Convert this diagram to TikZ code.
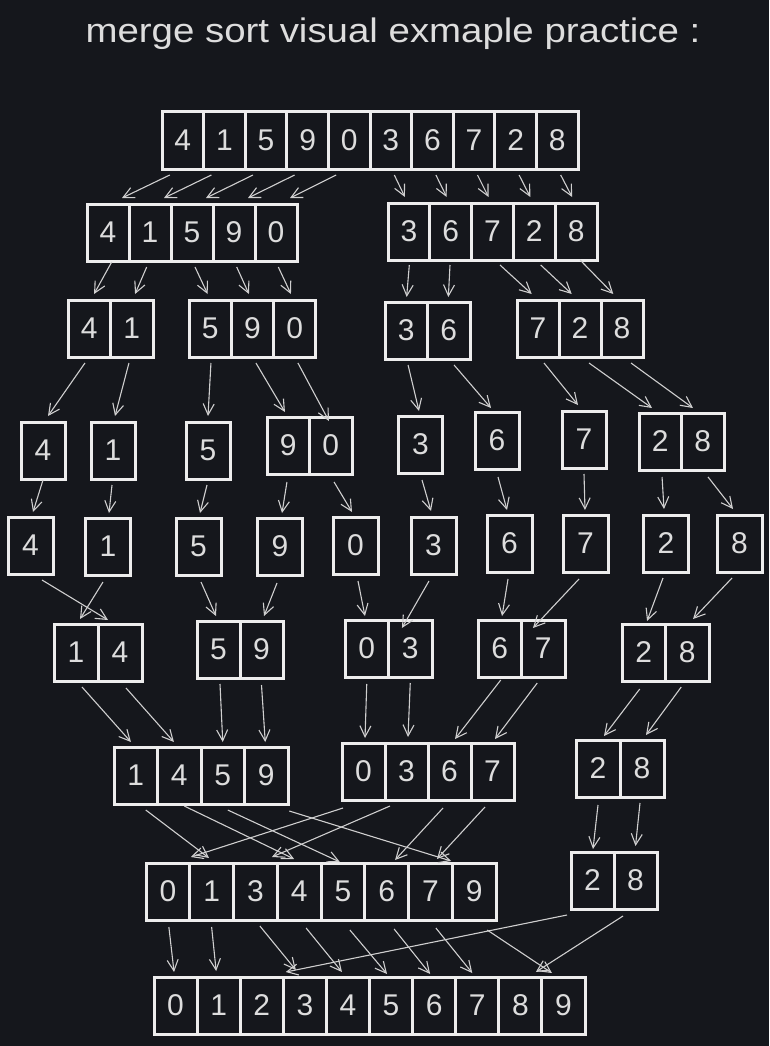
\documentclass[tikz,border=0pt]{standalone}
\usepackage{fontspec}
\setmainfont{Liberation Sans}
\usepackage{xcolor}
\usetikzlibrary{arrows.meta}
\definecolor{canvas}{HTML}{15171C}
\definecolor{boxline}{HTML}{EDEDED}
\definecolor{digit}{HTML}{DDDDDD}
\definecolor{arrowline}{HTML}{CFCFCF}

\begin{document}
\begin{tikzpicture}[
        x=1pt, y=-1pt,
        cell/.style={rectangle, draw=boxline, line width=3pt, text=digit, minimum height=57pt, inner sep=0pt, outer sep=0pt, font=\fontsize{30}{30}\selectfont},
        heading/.style={text=digit, font=\fontsize{34}{34}\selectfont, xscale=1.13, transform shape},
        arrow/.style={draw=arrowline, line width=1.1pt, -{Straight Barb[length=11pt,width=11pt]}}
    ]
        % Canvas
        \fill[canvas] (0,0) rectangle (769,1046);
        \useasboundingbox (0,0) rectangle (769,1046);

        % Title
        \node[heading, anchor=base] (title) at (393,43) {merge sort visual exmaple practice :};

        % Nodes
        \foreach \val [count=\k] in {4,1,5,9,0,3,6,7,2,8}
            \node[cell, minimum width=41.6pt] (a\k) at ({162+41.6*(\k-0.5)},140.5) {\val};

        \foreach \val [count=\k] in {4,1,5,9,0}
            \node[cell, minimum width=42pt] (b\k) at ({87+42*(\k-0.5)},232.5) {\val};
        \foreach \val [count=\k from 6] in {3,6,7,2,8}
            \node[cell, minimum width=41.8pt] (b\k) at ({388+41.8*(\k-5.5)},231.5) {\val};

        \foreach \val [count=\k] in {4,1}
            \node[cell, minimum width=42.5pt] (c\k) at ({68+42.5*(\k-0.5)},328.5) {\val};
        \foreach \val [count=\k from 3] in {5,9,0}
            \node[cell, minimum width=42.3pt] (c\k) at ({189+42.3*(\k-2.5)},328.5) {\val};
        \foreach \val [count=\k from 6] in {3,6}
            \node[cell, minimum width=42.5pt] (c\k) at ({385+42.5*(\k-5.5)},330.5) {\val};
        \foreach \val [count=\k from 8] in {7,2,8}
            \node[cell, minimum width=42pt] (c\k) at ({517+42*(\k-7.5)},328.5) {\val};

        \node[cell, minimum width=44pt] (d1) at (43,450.5) {4};
        \node[cell, minimum width=44pt] (d2) at (113,450.5) {1};
        \node[cell, minimum width=44pt] (d3) at (208,450.5) {5};
        \foreach \val [count=\k from 4] in {9,0}
            \node[cell, minimum width=42.5pt] (d\k) at ({267+42.5*(\k-3.5)},445.5) {\val};
        \node[cell, minimum width=44pt] (d6) at (420.5,444.5) {3};
        \node[cell, minimum width=44pt] (d7) at (497,440.5) {6};
        \node[cell, minimum width=44pt] (d8) at (584,439.5) {7};
        \foreach \val [count=\k from 9] in {2,8}
            \node[cell, minimum width=42.5pt] (d\k) at ({639+42.5*(\k-8.5)},441.5) {\val};

        \foreach \px/\py/\val [count=\k] in {30.5/545.5/4, 108/546.5/1, 198.5/546.5/5, 280/546.5/9, 355.5/545.5/0,
                433.5/545.5/3, 509.5/543.5/6, 585.5/543.5/7, 666/543.5/2, 739.5/543.5/8}
            \node[cell, minimum width=45pt] (e\k) at (\px,\py) {\val};

        \foreach \val [count=\k] in {1,4}
            \node[cell, minimum width=44pt] (f\k) at ({54+44*(\k-0.5)},652.5) {\val};
        \foreach \val [count=\k from 3] in {5,9}
            \node[cell, minimum width=43pt] (f\k) at ({197+43*(\k-2.5)},649.5) {\val};
        \foreach \val [count=\k from 5] in {0,3}
            \node[cell, minimum width=43.5pt] (f\k) at ({345+43.5*(\k-4.5)},648.5) {\val};
        \foreach \val [count=\k from 7] in {6,7}
            \node[cell, minimum width=43.5pt] (f\k) at ({478+43.5*(\k-6.5)},648.5) {\val};
        \foreach \val [count=\k from 9] in {2,8}
            \node[cell, minimum width=43.5pt] (f\k) at ({622+43.5*(\k-8.5)},652.5) {\val};

        \foreach \val [count=\k] in {1,4,5,9}
            \node[cell, minimum width=43.5pt] (g\k) at ({114+43.5*(\k-0.5)},775.5) {\val};
        \foreach \val [count=\k from 5] in {0,3,6,7}
            \node[cell, minimum width=43pt] (g\k) at ({342+43*(\k-4.5)},771.5) {\val};
        \foreach \val [count=\k from 9] in {2,8}
            \node[cell, minimum width=44pt] (g\k) at ({576+44*(\k-8.5)},768.5) {\val};

        \foreach \val [count=\k] in {0,1,3,4,5,6,7,9}
            \node[cell, minimum width=43.75pt] (h\k) at ({146+43.75*(\k-0.5)},891.5) {\val};
        \foreach \val [count=\k from 9] in {2,8}
            \node[cell, minimum width=43pt] (h\k) at ({571+43*(\k-8.5)},880.5) {\val};

        \foreach \val [count=\k] in {0,1,2,3,4,5,6,7,8,9}
            \node[cell, minimum width=43.1pt] (i\k) at ({154+43.1*(\k-0.5)},1005.5) {\val};

        % Arrows: split
        \draw[arrow] ([xshift=-13pt,yshift=-6pt]a1.south) -- ([xshift=14pt,yshift=6pt]b1.north);
        \draw[arrow] ([xshift=-13pt,yshift=-6pt]a2.south) -- ([xshift=14pt,yshift=6pt]b2.north);
        \draw[arrow] ([xshift=-13pt,yshift=-6pt]a3.south) -- ([xshift=14pt,yshift=6pt]b3.north);
        \draw[arrow] ([xshift=-13pt,yshift=-6pt]a4.south) -- ([xshift=14pt,yshift=6pt]b4.north);
        \draw[arrow] ([xshift=-13pt,yshift=-6pt]a5.south) -- ([xshift=14pt,yshift=6pt]b5.north);
        \draw[arrow] ([xshift=3.5pt,yshift=-6pt]a6.south) -- ([xshift=-4pt,yshift=6pt]b6.north);
        \draw[arrow] ([xshift=3.5pt,yshift=-6pt]a7.south) -- ([xshift=-4pt,yshift=6pt]b7.north);
        \draw[arrow] ([xshift=3.5pt,yshift=-6pt]a8.south) -- ([xshift=-4pt,yshift=6pt]b8.north);
        \draw[arrow] ([xshift=3.5pt,yshift=-6pt]a9.south) -- ([xshift=-4pt,yshift=6pt]b9.north);
        \draw[arrow] ([xshift=3.5pt,yshift=-6pt]a10.south) -- ([xshift=-4pt,yshift=6pt]b10.north);

        \draw[arrow] ([xshift=3.7pt,yshift=-1pt]b1.south) -- ([xshift=4.8pt,yshift=6pt]c1.north);
        \draw[arrow] ([xshift=-3.3pt,yshift=-6pt]b2.south) -- ([xshift=3.3pt,yshift=6pt]c2.north);
        \draw[arrow] ([xshift=3pt,yshift=-6pt]b3.south) -- ([xshift=-2.5pt,yshift=6pt]c3.north);
        \draw[arrow] ([xshift=2.7pt,yshift=-6pt]b4.south) -- ([xshift=-3.5pt,yshift=6pt]c4.north);
        \draw[arrow] ([xshift=2.3pt,yshift=-6pt]b5.south) -- ([xshift=-3.8pt,yshift=6pt]c5.north);
        \draw[arrow] ([xshift=0.4pt,yshift=-5pt]b6.south) -- ([xshift=0.4pt,yshift=5pt]c6.north);
        \draw[arrow] ([xshift=-0.7pt,yshift=-5pt]b7.south) -- ([xshift=-0.4pt,yshift=5pt]c7.north);
        \draw[arrow] ([xshift=7.5pt,yshift=-5pt]b8.south) -- ([xshift=-6.3pt,yshift=6pt]c8.north);
        \draw[arrow] ([xshift=6.4pt,yshift=-5pt]b9.south) -- ([xshift=-8.3pt,yshift=6pt]c9.north);
        \draw[arrow] ([xshift=4pt,yshift=0pt]b10.south) -- ([xshift=-8.7pt,yshift=6pt]c10.north);

        \draw[arrow] ([xshift=-4.3pt,yshift=-6pt]c1.south) -- ([xshift=5pt,yshift=6pt]d1.north);
        \draw[arrow] ([xshift=-2.8pt,yshift=-6pt]c2.south) -- ([xshift=2pt,yshift=6pt]d2.north);
        \draw[arrow] ([xshift=0.8pt,yshift=-6pt]c3.south) -- ([xshift=0pt,yshift=6pt]d3.north);
        \draw[arrow] ([xshift=3.5pt,yshift=-6pt]c4.south) -- ([xshift=-3.3pt,yshift=5pt]d4.north);
        \draw[arrow] ([xshift=3.2pt,yshift=-6pt]c5.south) -- ([xshift=-1.8pt,yshift=-4pt]d5.north);
        \draw[arrow] ([xshift=1.8pt,yshift=-6pt]c6.south) -- ([xshift=-1.5pt,yshift=5pt]d6.north);
        \draw[arrow] ([xshift=5.3pt,yshift=-6pt]c7.south) -- ([xshift=-6pt,yshift=4pt]d7.north);
        \draw[arrow] ([xshift=6pt,yshift=-6pt]c8.south) -- ([xshift=-6pt,yshift=6pt]d8.north);
        \draw[arrow] ([xshift=9pt,yshift=-6pt]c9.south) -- ([xshift=-8.3pt,yshift=5pt]d9.north);
        \draw[arrow] ([xshift=9pt,yshift=-6pt]c10.south) -- ([xshift=-9.8pt,yshift=5pt]d10.north);

        \draw[arrow] ([xshift=0pt,yshift=-1pt]d1.south) -- ([xshift=2.5pt,yshift=5pt]e1.north);
        \draw[arrow] ([xshift=-1pt,yshift=-6pt]d2.south) -- ([xshift=1pt,yshift=5pt]e2.north);
        \draw[arrow] ([xshift=-1pt,yshift=-6pt]d3.south) -- ([xshift=1.5pt,yshift=5pt]e3.north);
        \draw[arrow] ([xshift=-1.3pt,yshift=-8pt]d4.south) -- ([xshift=2pt,yshift=5pt]e4.north);
        \draw[arrow] ([xshift=3.3pt,yshift=-8pt]d5.south) -- ([xshift=-3.5pt,yshift=5pt]e5.north);
        \draw[arrow] ([xshift=1.5pt,yshift=-7pt]d6.south) -- ([xshift=-2.5pt,yshift=6pt]e6.north);
        \draw[arrow] ([xshift=1pt,yshift=-8pt]d7.south) -- ([xshift=-2.5pt,yshift=5pt]e7.north);
        \draw[arrow] ([xshift=0pt,yshift=-6pt]d8.south) -- ([xshift=-0.5pt,yshift=5pt]e8.north);
        \draw[arrow] ([xshift=1.8pt,yshift=-7pt]d9.south) -- ([xshift=-2pt,yshift=6pt]e9.north);
        \draw[arrow] ([xshift=5.3pt,yshift=-7pt]d10.south) -- ([xshift=-6.5pt,yshift=6pt]e10.north);

        % Arrows: merge
        \draw[arrow] ([xshift=11.5pt,yshift=-6pt]e1.south) -- ([xshift=-12pt,yshift=4pt]f2.north);
        \draw[arrow] ([xshift=-5pt,yshift=-7pt]e2.south) -- ([xshift=4pt,yshift=5pt]f1.north);
        \draw[arrow] ([xshift=2.5pt,yshift=-7pt]e3.south) -- ([xshift=-2.5pt,yshift=5pt]f3.north);
        \draw[arrow] ([xshift=-3pt,yshift=-8pt]e4.south) -- ([xshift=2.5pt,yshift=5pt]f4.north);
        \draw[arrow] ([xshift=2.5pt,yshift=-7pt]e5.south) -- ([xshift=-1.8pt,yshift=4pt]f5.north);
        \draw[arrow] ([xshift=-4.5pt,yshift=-7pt]e6.south) -- ([xshift=-8.3pt,yshift=-8pt]f6.north);
        \draw[arrow] ([xshift=-1.5pt,yshift=-7pt]e7.south) -- ([xshift=2.3pt,yshift=4pt]f7.north);
        \draw[arrow] ([xshift=-6.5pt,yshift=-7pt]e8.south) -- ([xshift=-10.3pt,yshift=-8pt]f8.north);
        \draw[arrow] ([xshift=-3pt,yshift=-6pt]e9.south) -- ([xshift=3.3pt,yshift=3pt]f9.north);
        \draw[arrow] ([xshift=-7.5pt,yshift=-6pt]e10.south) -- ([xshift=5.8pt,yshift=5pt]f10.north);

        \draw[arrow] ([xshift=6pt,yshift=-6pt]f1.south) -- ([xshift=-4.8pt,yshift=5pt]g1.north);
        \draw[arrow] ([xshift=6pt,yshift=-7pt]f2.south) -- ([xshift=-5.3pt,yshift=5pt]g2.north);
        \draw[arrow] ([xshift=1.5pt,yshift=-6pt]f3.south) -- ([xshift=0pt,yshift=5pt]g3.north);
        \draw[arrow] ([xshift=0pt,yshift=-7pt]f4.south) -- ([xshift=-1pt,yshift=5pt]g4.north);
        \draw[arrow] ([xshift=0pt,yshift=-7pt]f5.south) -- ([xshift=1.5pt,yshift=5pt]g5.north);
        \draw[arrow] ([xshift=0pt,yshift=-6pt]f6.south) -- ([xshift=1.5pt,yshift=6pt]g6.north);
        \draw[arrow] ([xshift=1pt,yshift=-3pt]f7.south) -- ([xshift=5.5pt,yshift=4pt]g7.north);
        \draw[arrow] ([xshift=-6pt,yshift=-6pt]f8.south) -- ([xshift=2.5pt,yshift=4pt]g8.north);
        \draw[arrow] ([xshift=-4pt,yshift=-8pt]f9.south) -- ([xshift=6pt,yshift=4pt]g9.north);
        \draw[arrow] ([xshift=-6pt,yshift=-6pt]f10.south) -- ([xshift=4pt,yshift=5pt]g10.north);

        \draw[arrow] ([xshift=10pt,yshift=-6pt]g1.south) -- ([xshift=-2.6pt,yshift=5pt]h2.north);
        \draw[arrow] ([xshift=5pt,yshift=-2pt]g2.south) -- ([xshift=-5pt,yshift=4pt]h4.north);
        \draw[arrow] ([xshift=5pt,yshift=-6pt]g3.south) -- ([xshift=-3pt,yshift=1pt]h5.north);
        \draw[arrow] ([xshift=23pt,yshift=-7pt]g4.south) -- ([xshift=-23pt,yshift=2pt]h8.north);
        \draw[arrow] ([xshift=-20.5pt,yshift=-8pt]g5.south) -- ([xshift=23pt,yshift=6pt]h1.north);
        \draw[arrow] ([xshift=-16.5pt,yshift=-6pt]g6.south) -- ([xshift=16.6pt,yshift=6pt]h3.north);
        \draw[arrow] ([xshift=-6.5pt,yshift=-8pt]g7.south) -- ([xshift=8.4pt,yshift=3pt]h6.north);
        \draw[arrow] ([xshift=-7.5pt,yshift=-7pt]g8.south) -- ([xshift=6.6pt,yshift=4pt]h7.north);
        \draw[arrow] ([xshift=0pt,yshift=-8pt]g9.south) -- ([xshift=0.5pt,yshift=3pt]h9.north);
        \draw[arrow] ([xshift=-2pt,yshift=-6pt]g10.south) -- ([xshift=0pt,yshift=6pt]h10.north);

        \draw[arrow] ([xshift=1pt,yshift=-7pt]h1.south) -- ([xshift=-1.5pt,yshift=5pt]i1.north);
        \draw[arrow] ([xshift=0pt,yshift=-7pt]h2.south) -- ([xshift=-2.5pt,yshift=6pt]i2.north);
        \draw[arrow] ([xshift=4.5pt,yshift=-6pt]h3.south) -- ([xshift=-9pt,yshift=7pt]i4.north);
        \draw[arrow] ([xshift=7pt,yshift=-8pt]h4.south) -- ([xshift=-6pt,yshift=5pt]i5.north);
        \draw[arrow] ([xshift=7pt,yshift=-10pt]h5.south) -- ([xshift=-4pt,yshift=3pt]i6.north);
        \draw[arrow] ([xshift=7.5pt,yshift=-9pt]h6.south) -- ([xshift=-4pt,yshift=3pt]i7.north);
        \draw[arrow] ([xshift=5.5pt,yshift=-8pt]h7.south) -- ([xshift=-5pt,yshift=4pt]i8.north);
        \draw[arrow] ([xshift=13pt,yshift=-10pt]h8.south) -- ([xshift=-11.5pt,yshift=4pt]i10.north);
        \draw[arrow] ([xshift=-25.5pt,yshift=-6pt]h9.south) -- ([xshift=24pt,yshift=5pt]i3.north);
        \draw[arrow] ([xshift=-12.5pt,yshift=-7pt]h10.south) -- ([xshift=15.5pt,yshift=5pt]i9.north);

    \end{tikzpicture}
\end{document}
